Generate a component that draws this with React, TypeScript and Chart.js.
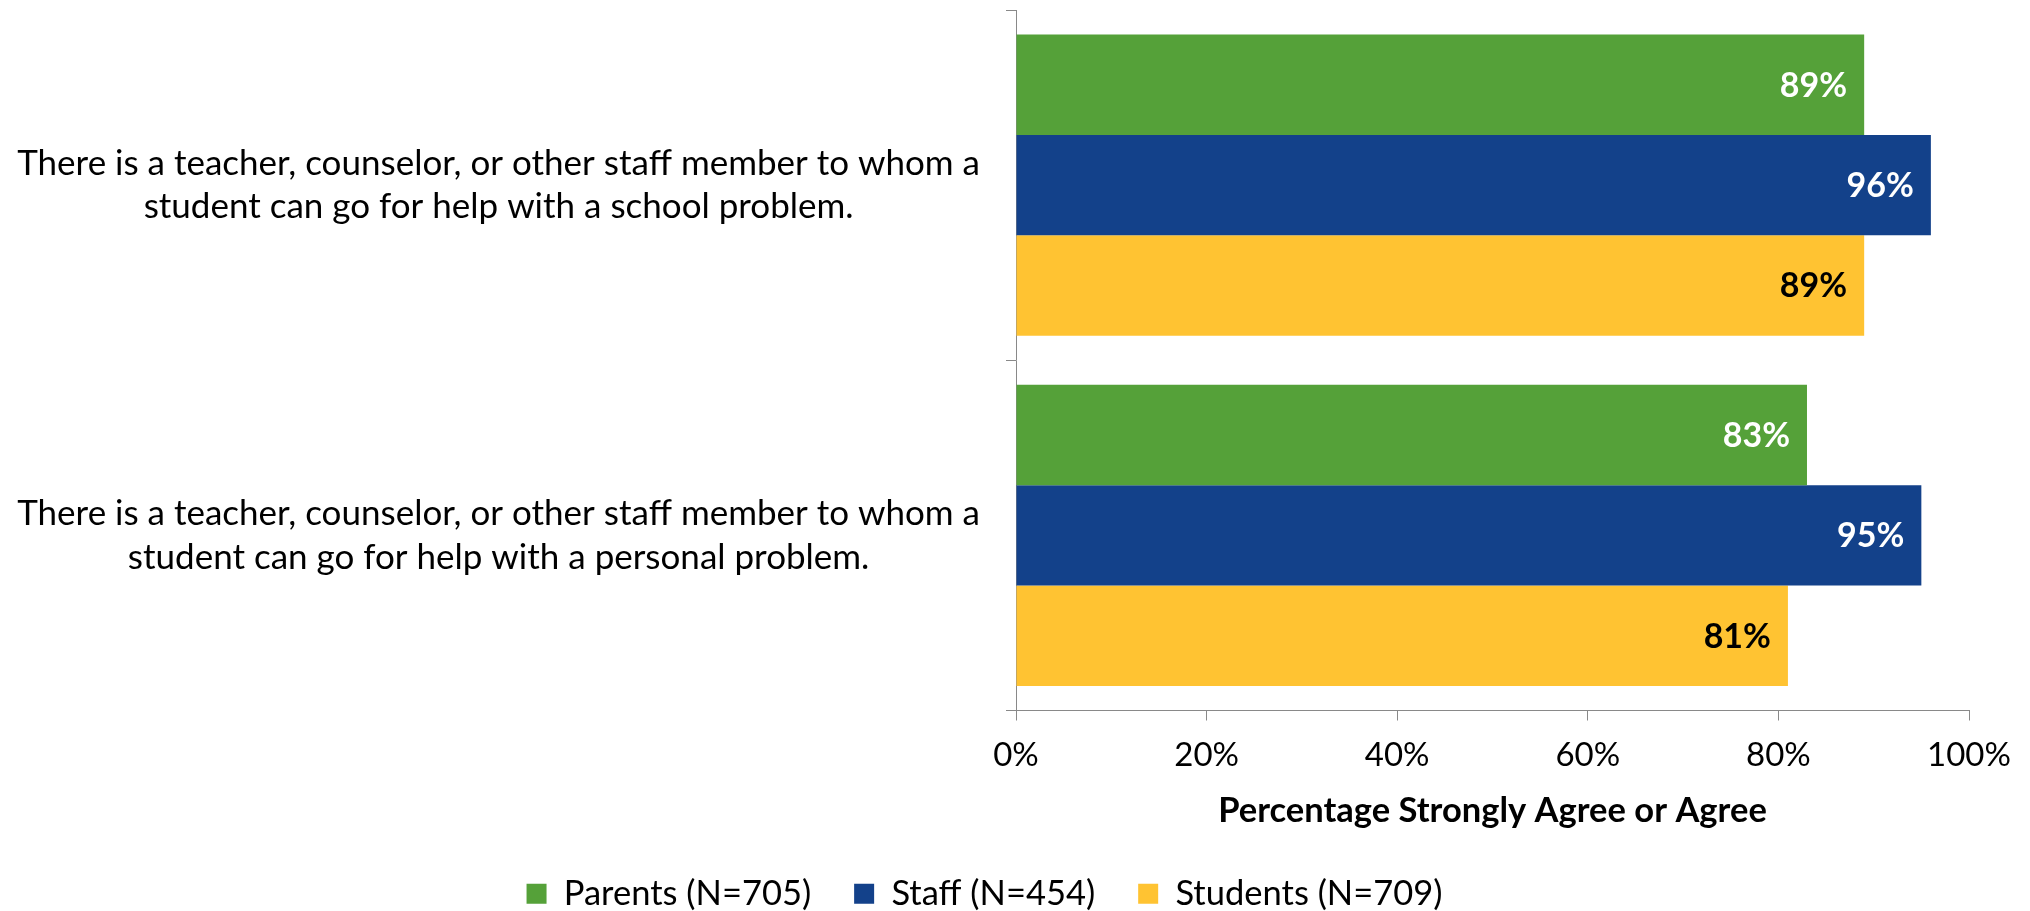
import React, { useEffect, useRef } from "react";
import { Chart, registerables } from "chart.js";

Chart.register(...registerables);

const categories = [
  ["There is a teacher, counselor, or other staff member to whom a", "student can go for help with a school problem."],
  ["There is a teacher, counselor, or other staff member to whom a", "student can go for help with a personal problem."],
];
const seriesNames = ["Parents (N=705)", "Staff (N=454)", "Students (N=709)"];
const parents = [89, 83];
const staff = [96, 95];
const students = [89, 81];
const seriesColors = ["#55A139", "#13418A", "#FFC332"];
const labelColors = ["#FFFFFF", "#FFFFFF", "#000000"];
const xTicks = [0, 20, 40, 60, 80, 100];
const axisTitle = "Percentage Strongly Agree or Agree";

const FONT = "Lato, 'Open Sans', sans-serif";

const barLabels = {
  id: "barLabels",
  afterDatasetsDraw(chart: any) {
    const ctx = chart.ctx;
    chart.data.datasets.forEach((ds: any, i: number) => {
      const meta = chart.getDatasetMeta(i);
      meta.data.forEach((bar: any, j: number) => {
        ctx.save();
        ctx.font = `bold 34px ${FONT}`;
        ctx.fillStyle = labelColors[i];
        ctx.textAlign = "right";
        ctx.textBaseline = "middle";
        ctx.fillText(`${ds.data[j]}%`, bar.x - 17, bar.y + 1);
        ctx.restore();
      });
    });
  },
};

export default function App() {
  const ref = useRef<HTMLCanvasElement>(null);
  useEffect(() => {
    if (!ref.current) return;
    const values = [parents, staff, students];
    const chart = new Chart(ref.current, {
      type: "bar",
      data: {
        labels: categories as any,
        datasets: seriesNames.map((name, i) => ({
          label: name,
          data: values[i],
          backgroundColor: seriesColors[i],
          borderWidth: 0,
          categoryPercentage: 0.86,
          barPercentage: 1.0,
        })),
      },
      options: {
        indexAxis: "y",
        responsive: false,
        animation: false,
        layout: { padding: { top: 10, right: 61, left: 0, bottom: -10 } },
        plugins: {
          tooltip: { enabled: false },
          legend: {
            position: "bottom",
            labels: {
              boxWidth: 20,
              boxHeight: 20,
              padding: 43,
              color: "#000",
              font: { size: 34.5, family: FONT },
            },
          },
        },
        scales: {
          x: {
            min: 0,
            max: 100,
            afterBuildTicks: (s: any) => {
              s.ticks = xTicks.map((v) => ({ value: v }));
            },
            ticks: {
              callback: (v: any) => `${v}%`,
              color: "#000",
              font: { size: 33, family: FONT },
              padding: 15,
            },
            grid: { drawOnChartArea: false, drawTicks: true, tickLength: 10, color: "#898989" },
            border: { color: "#898989", width: 1 },
            title: {
              display: true,
              text: axisTitle,
              color: "#000",
              font: { size: 34.5, family: FONT, weight: "bold" },
              padding: { top: 0, bottom: 2 },
            },
          },
          y: {
            afterFit: (s: any) => {
              s.width = 1016;
              s.paddingTop = 0;
              s.paddingBottom = 0;
            },
            ticks: {
              color: "#000",
              font: { size: 35, family: FONT, lineHeight: 1.25 },
              crossAlign: "center",
              padding: 26,
            },
            grid: { offset: true, drawOnChartArea: false, drawTicks: true, tickLength: 10, color: "#898989" },
            border: { color: "#898989", width: 1 },
          },
        },
      },
      plugins: [barLabels],
    } as any);
    return () => chart.destroy();
  }, []);
  return (
    <div style={{ position: "absolute", left: 0, top: 0, width: 2030, height: 911, background: "#fff" }}>
      <canvas ref={ref} width={2030} height={911} />
    </div>
  );
}
